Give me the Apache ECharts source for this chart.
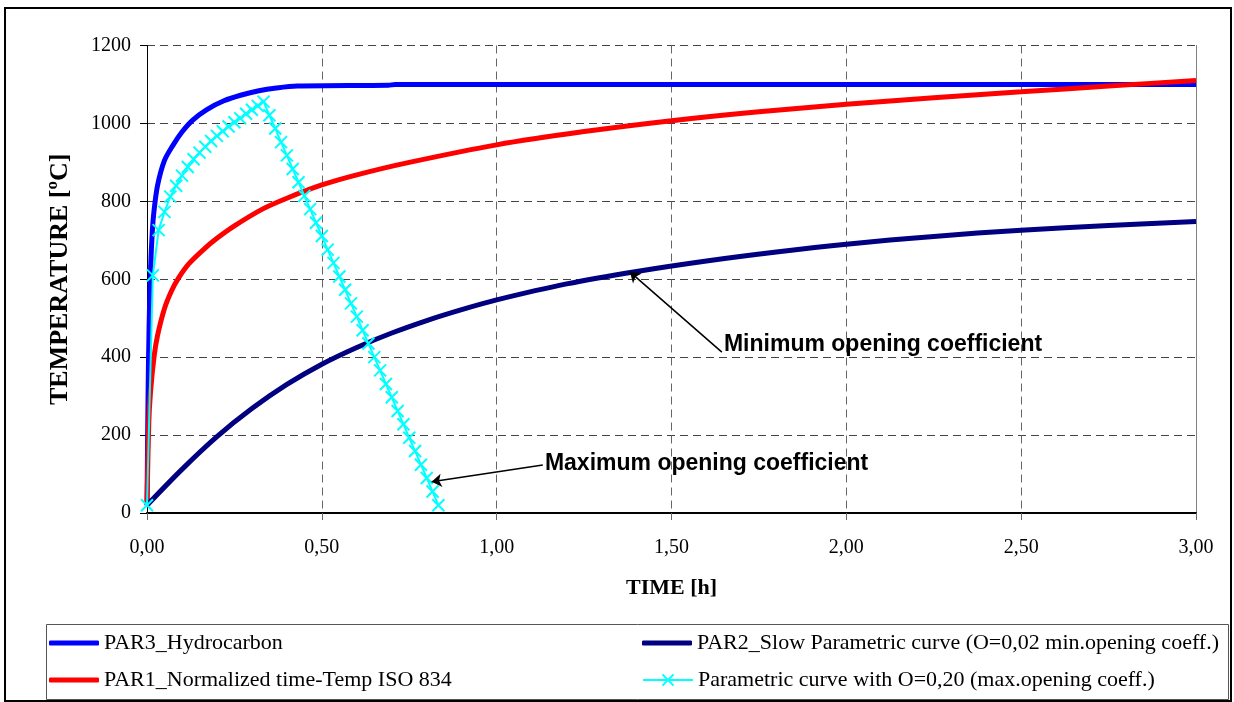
<!DOCTYPE html>
<html>
<head>
<meta charset="utf-8">
<script src="https://cdn.jsdelivr.net/npm/echarts@6/dist/echarts.min.js"></script>
<style>
html,body{margin:0;padding:0;background:#fff;}
#chart{width:1234px;height:702px;}
</style>
</head>
<body>
<div id="chart"></div>
<script>
// ---- data (time in hours, temperature in °C) ----
const seriesNames = [
  'PAR3_Hydrocarbon',
  'PAR1_Normalized time-Temp ISO 834',
  'PAR2_Slow Parametric curve (O=0,02 min.opening coeff.)',
  'Parametric curve with O=0,20 (max.opening coeff.)'
];
const hydroTime = [0,0.003,0.006,0.01,0.015,0.02,0.03,0.05,0.075,0.1,0.13,0.17,0.22,0.27,0.32,0.37,0.43,0.69,0.71,3.0];
const hydroTemp = [20,300,480,620,720,775,840,905,945,978,1008,1035,1058,1073,1084,1091,1096,1098,1100,1100];

const isoTime = [0,0.005,0.01,0.02,0.03,0.05,0.07,0.09,0.12,0.16,0.2,0.25,0.33,0.4,0.5,0.6,0.75,1.0,1.25,1.5,1.75,2.0,2.25,2.5,2.75,3.0];
const isoTemp = [20,230,310,400,455,525,570,603,640,675,705,737,780,808,842,868,900,945,979,1007,1030,1049,1066,1081,1096,1110];

const slowTime = [0,0.1,0.2,0.3,0.4,0.5,0.6,0.7,0.8,0.9,1.0,1.2,1.4,1.6,1.8,2.0,2.25,2.5,2.75,3.0];
const slowTemp = [20,112,196,268,330,382,425,462,494,522,547,588,620,647,670,690,710,726,738,748];

const paramMinutes = [0,1,2,3,4,5,6,7,8,9,10,11,12,13,14,15,16,17,18,19,20,21,22,23,24,25,26,27,28,29,30,31,32,33,34,35,36,37,38,39,40,41,42,43,44,45,46,47,48,49,50];
const paramTemp = [20,610,726,773,812,840,866,888,908,925,940,955,968,980,992,1003,1013,1025,1035,1045,1056,
  1021,987,952,918,883,849,814,780,745,711,676,642,607,573,538,504,469,435,400,366,331,297,262,228,193,159,124,90,55,20];

const xTickLabels = ['0,00','0,50','1,00','1,50','2,00','2,50','3,00'];
const yTickLabels = ['0','200','400','600','800','1000','1200'];

const annotations = [
  {text:'Minimum opening coefficient', textAt:[1.650, 431], from:[1.644, 413], to:[1.381, 619]},
  {text:'Maximum opening coefficient', textAt:[1.138, 127], from:[1.132, 123], to:[0.814, 80]}
];

// ---- build ----
const pairs = (xs, ys) => xs.map((x, i) => [x, ys[i]]);
const SERIF = '"Liberation Serif","Times New Roman",serif';
const SANS = '"Liberation Sans",Arial,sans-serif';

const chart = echarts.init(document.getElementById('chart'), null, {renderer:'canvas'});

function legendAt(name, left, top, plainLine){
  return {
    data:[plainLine ? {name:name, icon:'roundRect'} : {name:name}],
    left:left, top:top, orient:'horizontal', padding:0,
    itemWidth:50, itemHeight: plainLine ? 5 : 14, selectedMode:false,
    textStyle:{fontFamily:SERIF, fontSize:22, color:'#000', lineHeight:22}
  };
}

const option = {
  animation:false,
  backgroundColor:'#fff',
  grid:{left:147, right:38, top:45.5, bottom:189, containLabel:false},
  legend:[
    legendAt(seriesNames[0], 49, 632, true),
    legendAt(seriesNames[1], 49, 669, true),
    legendAt(seriesNames[2], 642, 632, true),
    legendAt(seriesNames[3], 642, 669, false)
  ],
  xAxis:{
    type:'value', min:0, max:3, interval:0.5,
    name:'TIME [h]', nameLocation:'middle', nameGap:64,
    nameTextStyle:{fontFamily:SERIF, fontWeight:'bold', fontSize:22, color:'#000'},
    axisLine:{show:true, onZero:false, lineStyle:{color:'#000', width:2}},
    axisTick:{show:true, length:7, inside:false, lineStyle:{color:'#666', width:1}},
    axisLabel:{margin:25, fontFamily:SERIF, fontSize:20, color:'#000',
      formatter:(v)=>xTickLabels[Math.round(v/0.5)]},
    splitLine:{show:true, lineStyle:{color:'#666', width:1, type:[8,5]}}
  },
  yAxis:[{
    type:'value', min:0, max:1200, interval:200,
    name:'TEMPERATURE [ºC]', nameLocation:'middle', nameGap:74,
    nameTextStyle:{fontFamily:SERIF, fontWeight:'bold', fontSize:26, color:'#000'},
    axisLine:{show:true, lineStyle:{color:'#000', width:1}},
    axisTick:{show:true, length:7, inside:false, lineStyle:{color:'#000', width:1}},
    axisLabel:{margin:16, fontFamily:SERIF, fontSize:20, color:'#000',
      formatter:(v)=>yTickLabels[Math.round(v/200)]},
    splitLine:{show:true, lineStyle:{color:'#444', width:1, type:[8,5]}}
  },{
    type:'value', min:0, max:1200, interval:200, position:'right',
    axisLine:{show:true, lineStyle:{color:'#808080', width:1}},
    axisTick:{show:false}, axisLabel:{show:false}, splitLine:{show:false}
  }],
  series:[
    {name:seriesNames[0], type:'line', data:pairs(hydroTime, hydroTemp), symbol:'none',
     smooth:0.3, lineStyle:{color:'#0000FF', width:5}, itemStyle:{color:'#0000FF'}, z:3},
    {name:seriesNames[1], type:'line', data:pairs(isoTime, isoTemp), symbol:'none',
     smooth:0.3, lineStyle:{color:'#FF0000', width:5}, itemStyle:{color:'#FF0000'}, z:3},
    {name:seriesNames[2], type:'line', data:pairs(slowTime, slowTemp), symbol:'none',
     smooth:0.3, lineStyle:{color:'#000080', width:5}, itemStyle:{color:'#000080'}, z:3},
    {name:seriesNames[3], type:'line', data:pairs(paramMinutes.map(m=>m/60), paramTemp),
     symbol:'path://M0,0L10,10M10,0L0,10', symbolSize:12, showSymbol:true,
     lineStyle:{color:'#00FFFF', width:2},
     itemStyle:{color:'#00FFFF', borderColor:'#00FFFF', borderWidth:2}, z:4,
     markLine:{
       silent:true, symbol:['none','arrow'], symbolSize:10, precision:4,
       label:{show:false},
       lineStyle:{color:'#000', width:1.5, type:'solid'},
       emphasis:{disabled:true},
       data: annotations.map(a => [{coord:a.from}, {coord:a.to}])
     }}
  ]
};
chart.setOption(option);

// annotation texts and frames placed via the chart's own coordinate system
const graphics = annotations.map(a => {
  const p = chart.convertToPixel({gridIndex:0}, a.textAt);
  return {type:'text', x:p[0], y:p[1], z:10,
    style:{text:a.text, font:'bold 23px ' + SANS, fill:'#000', textVerticalAlign:'middle', textAlign:'left'}};
});
graphics.push({type:'rect', z:-1, shape:{x:5, y:8, width:1226, height:693}, style:{fill:'none', stroke:'#000', lineWidth:2}});
graphics.push({type:'rect', z:-1, shape:{x:46.5, y:624.5, width:1182, height:75}, style:{fill:'none', stroke:'#555', lineWidth:1}});
chart.setOption({graphic:graphics});
</script>
</body>
</html>
